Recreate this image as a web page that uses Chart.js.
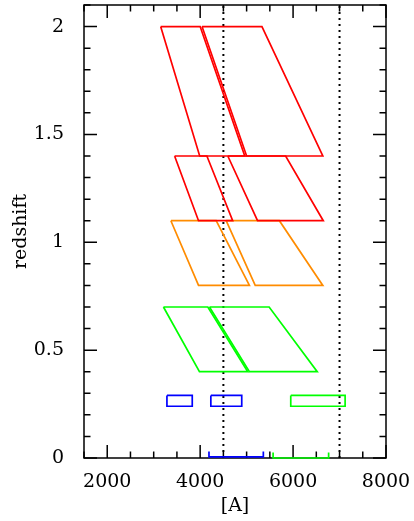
<!DOCTYPE html>
<html>
<head>
<meta charset="utf-8">
<script src="https://cdn.jsdelivr.net/npm/chart.js@4.4.1/dist/chart.umd.min.js"></script>
<style>
    html, body { margin: 0; padding: 0; background: #fff; }
    #wrap { width: 414px; height: 521px; position: relative; }
</style>
</head>
<body>
<div id="wrap"><canvas id="zchart" width="414" height="521"></canvas></div>
<script>
// redshift coverage of the filter bands vs rest-frame wavelength

// axis setup
var X_MIN = 1500, X_MAX = 8000;
var Y_MIN = 0, Y_MAX = 2.1;
var X_TICKS = [2000, 4000, 6000, 8000];
var Y_TICKS = [0, 0.5, 1, 1.5, 2];
var X_MINOR_STEP = 500, Y_MINOR_STEP = 0.1;

// parallelogram corners: top-left, top-right, bottom-right, bottom-left (wavelength, A)
var redUpperLeft  = [3150, 4000, 4960, 3990];
var redUpperRight = [4040, 5330, 6640, 5000];
var redUpperZ     = [2.0, 2.0, 1.4, 1.4];

var redLowerLeft  = [3450, 4145, 4700, 3965];
var redLowerRight = [4595, 5840, 6650, 5235];
var redLowerZ     = [1.4, 1.4, 1.1, 1.1];

var orangeLeft  = [3370, 4345, 5060, 3965];
var orangeRight = [4560, 5705, 6640, 5185];
var orangeZ     = [1.1, 1.1, 0.8, 0.8];

var greenLeft  = [3210, 4165, 5025, 3985];
var greenRight = [4200, 5485, 6520, 5060];
var greenZ     = [0.7, 0.7, 0.4, 0.4];

// small boxes at low redshift: [left, right] wavelength
var blueBoxA = [3285, 3830];
var blueBoxB = [4230, 4895];
var greenBox = [5950, 7120];
var boxZ = [0.24, 0.29];

// bars at z = 0 with end caps
var blueBar = [4190, 5360];
var greenBar = [5570, 6765];
var blueBarZ = 0.005, greenBarZ = 0, capZ = 0.025;

// dotted reference wavelengths
var refLines = [4500, 7000];

var RED = '#ff0000', ORANGE = '#ff8c00', GREEN = '#00ff00', BLUE = '#0000ff';

function polygon(xs, zs) {
    var pts = xs.map(function(x, i) { return { x: x, y: zs[i] }; });
    pts.push(pts[0]);
    return pts;
}

function box(xr, zr) {
    return polygon([xr[0], xr[1], xr[1], xr[0]], [zr[1], zr[1], zr[0], zr[0]]);
}

function cappedBar(xr, z) {
    return [
        { x: xr[0], y: z + capZ }, { x: xr[0], y: z },
        { x: xr[1], y: z }, { x: xr[1], y: z + capZ }
    ];
}

function outline(data, color) {
    return { data: data, borderColor: color, borderWidth: 1.7, showLine: true,
             pointRadius: 0, tension: 0, fill: false, clip: 4 };
}

var datasets = [
    outline(polygon(redUpperLeft, redUpperZ), RED),
    outline(polygon(redUpperRight, redUpperZ), RED),
    outline(polygon(redLowerLeft, redLowerZ), RED),
    outline(polygon(redLowerRight, redLowerZ), RED),
    outline(polygon(orangeLeft, orangeZ), ORANGE),
    outline(polygon(orangeRight, orangeZ), ORANGE),
    outline(polygon(greenLeft, greenZ), GREEN),
    outline(polygon(greenRight, greenZ), GREEN),
    outline(box(blueBoxA, boxZ), BLUE),
    outline(box(blueBoxB, boxZ), BLUE),
    outline(box(greenBox, boxZ), GREEN),
    outline(cappedBar(blueBar, blueBarZ), BLUE),
    outline(cappedBar(greenBar, greenBarZ), GREEN)
];
refLines.forEach(function(x) {
    var d = outline([{ x: x, y: Y_MIN }, { x: x, y: Y_MAX }], '#000');
    d.borderWidth = 2;
    d.borderDash = [2, 4];
    datasets.push(d);
});

// frame with inward ticks on all four sides, drawn under the data
var framePlugin = {
    id: 'frame',
    beforeDatasetsDraw: function(chart) {
        var ctx = chart.ctx, a = chart.chartArea;
        var xs = chart.scales.x, ys = chart.scales.y;
        ctx.save();
        ctx.strokeStyle = '#000';
        ctx.lineWidth = 1.5;
        ctx.strokeRect(a.left, a.top, a.right - a.left, a.bottom - a.top);
        ctx.beginPath();
        var v, p, len;
        for (v = X_MIN; v <= X_MAX + 1e-6; v += X_MINOR_STEP) {
            p = xs.getPixelForValue(v);
            len = X_TICKS.indexOf(v) >= 0 ? 13 : 6.5;
            ctx.moveTo(p, a.bottom); ctx.lineTo(p, a.bottom - len);
            ctx.moveTo(p, a.top); ctx.lineTo(p, a.top + len);
        }
        for (var i = 0; Y_MIN + i * Y_MINOR_STEP <= Y_MAX + 1e-6; i++) {
            v = Math.round((Y_MIN + i * Y_MINOR_STEP) * 10) / 10;
            p = ys.getPixelForValue(v);
            len = Y_TICKS.indexOf(v) >= 0 ? 13 : 6.5;
            ctx.moveTo(a.left, p); ctx.lineTo(a.left + len, p);
            ctx.moveTo(a.right, p); ctx.lineTo(a.right - len, p);
        }
        ctx.stroke();
        ctx.restore();
    }
};

var FONT = { family: '"DejaVu Serif", serif', size: 19 };

new Chart(document.getElementById('zchart').getContext('2d'), {
    type: 'scatter',
    data: { datasets: datasets },
    options: {
        responsive: false,
        animation: false,
        layout: { padding: { left: 0, right: 28, top: 5, bottom: 0 } },
        plugins: { legend: { display: false }, tooltip: { enabled: false } },
        scales: {
            x: {
                type: 'linear', min: X_MIN, max: X_MAX,
                grid: { display: false }, border: { display: false },
                afterBuildTicks: function(s) { s.ticks = X_TICKS.map(function(v) { return { value: v }; }); },
                afterFit: function(s) { s.height = 63; s.paddingLeft = 0; s.paddingRight = 0; },
                ticks: { color: '#000', font: FONT, padding: 5, maxRotation: 0,
                         callback: function(v) { return String(v); } },
                title: { display: true, text: '[A]', color: '#000', font: FONT, padding: { top: 0 } }
            },
            y: {
                type: 'linear', min: Y_MIN, max: Y_MAX,
                grid: { display: false }, border: { display: false },
                afterBuildTicks: function(s) { s.ticks = Y_TICKS.map(function(v) { return { value: v }; }); },
                afterFit: function(s) { s.width = 84; s.paddingTop = 0; s.paddingBottom = 0; },
                ticks: { color: '#000', font: FONT, padding: 12,
                         callback: function(v) { return String(v); } },
                title: { display: true, text: 'redshift', color: '#000', font: FONT, padding: { top: 10, bottom: 0 } }
            }
        }
    },
    plugins: [framePlugin]
});
</script>
</body>
</html>
